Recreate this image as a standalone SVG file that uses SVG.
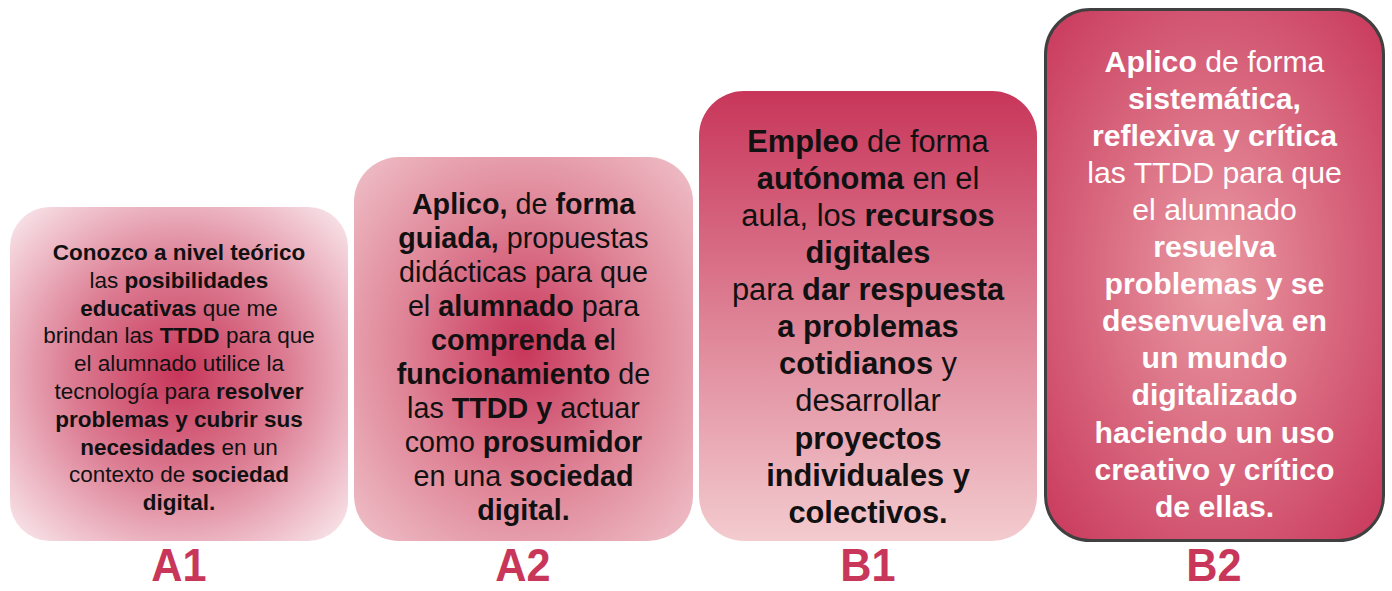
<svg xmlns="http://www.w3.org/2000/svg" width="1392" height="591" viewBox="0 0 1392 591">
<style>
text{font-family:"Liberation Sans",Arial,sans-serif;text-anchor:middle}
.b{font-weight:bold}
.t1{font-size:22.5px;fill:#111}
.t2{font-size:28.7px;fill:#111}
.t3{font-size:30.8px;fill:#111}
.t4{font-size:30.2px;fill:#fff}
.lbl{font-size:46px;font-weight:bold;fill:#c8365a}
</style>
<defs>
<radialGradient id="gA1" cx="0.5" cy="0.5" r="0.72">
<stop offset="0" stop-color="#c8365a"/>
<stop offset="0.45" stop-color="#dc7d93"/>
<stop offset="0.75" stop-color="#eebcc8"/>
<stop offset="1" stop-color="#fbf0f3"/>
</radialGradient>
<radialGradient id="gA2" cx="0.5" cy="0.5" r="0.72">
<stop offset="0" stop-color="#c8365a"/>
<stop offset="0.5" stop-color="#df8497"/>
<stop offset="1" stop-color="#f0c4cb"/>
</radialGradient>
<linearGradient id="gB1" x1="0" y1="0" x2="0" y2="1">
<stop offset="0" stop-color="#c8365a"/>
<stop offset="1" stop-color="#f3cbcf"/>
</linearGradient>
<radialGradient id="gB2" cx="0.5" cy="0.5" r="0.72">
<stop offset="0" stop-color="#e99aa3"/>
<stop offset="1" stop-color="#c8365a"/>
</radialGradient>
</defs>

<g id="nodeA1">
<rect x="10" y="207" width="338" height="334" rx="40" fill="url(#gA1)"/>
<text class="t1" x="179" y="260"><tspan class="b">Conozco a nivel teórico</tspan></text>
<text class="t1" x="179" y="287.8">las <tspan class="b">posibilidades</tspan></text>
<text class="t1" x="179" y="315.6"><tspan class="b">educativas</tspan> que me</text>
<text class="t1" x="179" y="343.4">brindan las <tspan class="b">TTDD</tspan> para que</text>
<text class="t1" x="179" y="371.2">el alumnado utilice la</text>
<text class="t1" x="179" y="399">tecnología para <tspan class="b">resolver</tspan></text>
<text class="t1" x="179" y="426.8"><tspan class="b">problemas y cubrir sus</tspan></text>
<text class="t1" x="179" y="454.6"><tspan class="b">necesidades</tspan> en un</text>
<text class="t1" x="179" y="482.4">contexto de <tspan class="b">sociedad</tspan></text>
<text class="t1" x="179" y="510.2"><tspan class="b">digital.</tspan></text>
</g>

<g id="nodeA2">
<rect x="354" y="157" width="339" height="384" rx="45" fill="url(#gA2)"/>
<text class="t2" x="523.5" y="214"><tspan class="b">Aplico,</tspan> de <tspan class="b">forma</tspan></text>
<text class="t2" x="523.5" y="248"><tspan class="b">guiada,</tspan> propuestas</text>
<text class="t2" x="523.5" y="282">didácticas para que</text>
<text class="t2" x="523.5" y="316">el <tspan class="b">alumnado</tspan> para</text>
<text class="t2" x="523.5" y="350"><tspan class="b">comprenda e</tspan>l</text>
<text class="t2" x="523.5" y="384"><tspan class="b">funcionamiento</tspan> de</text>
<text class="t2" x="523.5" y="418">las <tspan class="b">TTDD y</tspan> actuar</text>
<text class="t2" x="523.5" y="452">como <tspan class="b">prosumidor</tspan></text>
<text class="t2" x="523.5" y="486">en una <tspan class="b">sociedad</tspan></text>
<text class="t2" x="523.5" y="520"><tspan class="b">digital.</tspan></text>
</g>

<g id="nodeB1">
<rect x="699" y="91" width="338" height="450" rx="45" fill="url(#gB1)"/>
<text class="t3" x="868" y="151.7"><tspan class="b">Empleo</tspan> de forma</text>
<text class="t3" x="868" y="188.8"><tspan class="b">autónoma</tspan> en el</text>
<text class="t3" x="868" y="225.9">aula, los <tspan class="b">recursos</tspan></text>
<text class="t3" x="868" y="263"><tspan class="b">digitales</tspan></text>
<text class="t3" x="868" y="300.1">para <tspan class="b">dar respuesta</tspan></text>
<text class="t3" x="868" y="337.2"><tspan class="b">a problemas</tspan></text>
<text class="t3" x="868" y="374.3"><tspan class="b">cotidianos</tspan> y</text>
<text class="t3" x="868" y="411.4">desarrollar</text>
<text class="t3" x="868" y="448.5"><tspan class="b">proyectos</tspan></text>
<text class="t3" x="868" y="485.6"><tspan class="b">individuales y</tspan></text>
<text class="t3" x="868" y="522.7"><tspan class="b">colectivos.</tspan></text>
</g>

<g id="nodeB2">
<rect x="1045.5" y="9.5" width="338" height="531" rx="45" fill="url(#gB2)" stroke="#404040" stroke-width="3"/>
<text class="t4" x="1214.5" y="71.5"><tspan class="b">Aplico</tspan> de forma</text>
<text class="t4" x="1214.5" y="108.6"><tspan class="b">sistemática,</tspan></text>
<text class="t4" x="1214.5" y="145.7"><tspan class="b">reflexiva y crítica</tspan></text>
<text class="t4" x="1214.5" y="182.8">las TTDD para que</text>
<text class="t4" x="1214.5" y="219.9">el alumnado</text>
<text class="t4" x="1214.5" y="257"><tspan class="b">resuelva</tspan></text>
<text class="t4" x="1214.5" y="294.1"><tspan class="b">problemas y se</tspan></text>
<text class="t4" x="1214.5" y="331.2"><tspan class="b">desenvuelva en</tspan></text>
<text class="t4" x="1214.5" y="368.3"><tspan class="b">un mundo</tspan></text>
<text class="t4" x="1214.5" y="405.4"><tspan class="b">digitalizado</tspan></text>
<text class="t4" x="1214.5" y="442.5"><tspan class="b">haciendo un uso</tspan></text>
<text class="t4" x="1214.5" y="479.6"><tspan class="b">creativo y crítico</tspan></text>
<text class="t4" x="1214.5" y="516.7"><tspan class="b">de ellas.</tspan></text>
</g>

<g id="labels">
<text class="lbl" x="179" y="581" transform="translate(179 0) scale(0.94 1) translate(-179 0)">A1</text>
<text class="lbl" x="523" y="581" transform="translate(523 0) scale(0.94 1) translate(-523 0)">A2</text>
<text class="lbl" x="868" y="581" transform="translate(868 0) scale(0.94 1) translate(-868 0)">B1</text>
<text class="lbl" x="1214" y="581" transform="translate(1214 0) scale(0.94 1) translate(-1214 0)">B2</text>
</g>

<g id="connectors"></g>
</svg>
